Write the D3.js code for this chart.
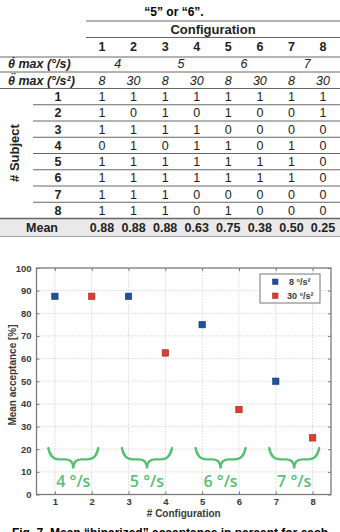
<!DOCTYPE html>
<html>
<head>
<meta charset="utf-8">
<script src="https://cdn.jsdelivr.net/npm/d3@7"></script>
<style>
  body { margin: 0; background: #fff; }
  svg { display: block; font-family: "Liberation Sans", Arial, sans-serif; }
</style>
</head>
<body>
<svg class="chart"></svg>
<script>
// table + scatter of mean acceptance per configuration

var configs = [1, 2, 3, 4, 5, 6, 7, 8];
var velMax = [4, 5, 6, 7];
var accMax = [8, 30, 8, 30, 8, 30, 8, 30];
var subjects = [1, 2, 3, 4, 5, 6, 7, 8];
var acceptance = [
  [1, 1, 1, 1, 1, 1, 1, 1],
  [1, 0, 1, 0, 1, 0, 0, 1],
  [1, 1, 1, 1, 0, 0, 0, 0],
  [0, 1, 0, 1, 1, 0, 1, 0],
  [1, 1, 1, 1, 1, 1, 1, 0],
  [1, 1, 1, 1, 1, 1, 1, 0],
  [1, 1, 1, 0, 0, 0, 0, 0],
  [1, 1, 1, 0, 1, 0, 0, 0]
];
var meanLabels = ["0.88", "0.88", "0.88", "0.63", "0.75", "0.38", "0.50", "0.25"];
var meanPct = [87.5, 87.5, 87.5, 62.5, 75, 37.5, 50, 25];
var yTicks = [0, 10, 20, 30, 40, 50, 60, 70, 80, 90, 100];
var seriesNames = ["8 °/s²", "30 °/s²"];

var ui = {
  blue: '#1f4f9f',
  blueEdge: '#17396f',
  red: '#e43a2c',
  redEdge: '#8f2a20',
  green: '#55bf74',
  rule: '#666'
}

var chart = d3.select(".chart")
  .attr("width", 340)
  .attr("height", 532);

chart.append("rect").attr("width", 340).attr("height", 532).attr("fill", "#fff");

// ---- caption above table
chart.append("text")
  .attr("x", 174).attr("y", 16)
  .attr("text-anchor", "middle")
  .style("font-size", "12px").style("font-weight", "bold")
  .text("“5” or “6”.");

// ---- table
var col = d3.scalePoint().domain(configs).range([102, 323]);
var row = d3.scaleBand().domain(subjects).range([88.5, 218.5]);
var table = chart.append("g").style("font-size", "12.5px").attr("fill", "#222");

function rule(x0, x1, y, w) {
  table.append("line").attr("x1", x0).attr("x2", x1).attr("y1", y).attr("y2", y)
    .attr("stroke", ui.rule).attr("stroke-width", w || 1);
}

// mean row background
table.append("rect").attr("x", 0).attr("y", 218.5).attr("width", 340).attr("height", 18)
  .attr("fill", "#e9e9e9");

rule(86, 340, 21);
rule(86, 340, 37.5);
rule(0, 340, 57);
rule(0, 340, 72);
rule(0, 340, 88.5);
subjects.slice(1).forEach(function(s) { rule(33, 340, row(s)); });
rule(0, 340, 218.5, 1.5);
rule(0, 340, 236.5, 0.6);

table.append("text").attr("x", 213).attr("y", 34)
  .attr("text-anchor", "middle").style("font-weight", "bold").style("font-size", "13px")
  .text("Configuration");

table.selectAll(".colhead").data(configs).enter().append("text")
  .attr("x", function(d) { return col(d) }).attr("y", 51)
  .attr("text-anchor", "middle").style("font-weight", "bold")
  .text(function(d) { return d });

// row labels: theta with dot / double dot drawn above it
[["max (°/s)", "˙", 68], ["max (°/s²)", "¨", 84.5]].forEach(function(r) {
  table.append("text").attr("x", 8).attr("y", r[2])
    .style("font-weight", "bold").style("font-style", "italic")
    .text("θ " + r[0]);
  table.append("text").attr("x", 13.5).attr("y", r[2] - 2.5)
    .attr("text-anchor", "middle")
    .style("font-weight", "bold").style("font-size", "12px")
    .text(r[1]);
});

table.selectAll(".vel").data(velMax).enter().append("text")
  .attr("x", function(d, i) { return (col(configs[2 * i]) + col(configs[2 * i + 1])) / 2 })
  .attr("y", 68).attr("text-anchor", "middle").style("font-style", "italic")
  .text(function(d) { return d });

table.selectAll(".acc").data(accMax).enter().append("text")
  .attr("x", function(d, i) { return col(configs[i]) })
  .attr("y", 84.5).attr("text-anchor", "middle").style("font-style", "italic")
  .text(function(d) { return d });

table.append("text")
  .attr("transform", "translate(19,153) rotate(-90)")
  .attr("text-anchor", "middle").style("font-weight", "bold").style("font-size", "13px")
  .text("# Subject");

var rows = table.selectAll(".subj").data(subjects).enter().append("g")
  .attr("transform", function(d) { return "translate(0," + (row(d) + row.bandwidth() / 2 + 4.5) + ")" });
rows.append("text").attr("x", 58).attr("text-anchor", "middle").style("font-weight", "bold")
  .text(function(d) { return d });
rows.selectAll(".cell").data(function(d, i) { return acceptance[i] }).enter().append("text")
  .attr("x", function(d, j) { return col(configs[j]) }).attr("text-anchor", "middle")
  .text(function(d) { return d });

table.append("text").attr("x", 42).attr("y", 232)
  .attr("text-anchor", "middle").style("font-weight", "bold").text("Mean");
table.selectAll(".mean").data(meanLabels).enter().append("text")
  .attr("x", function(d, i) { return col(configs[i]) }).attr("y", 232)
  .attr("text-anchor", "middle").style("font-weight", "bold")
  .text(function(d) { return d });

// ---- scatter
var x = d3.scaleLinear().domain([0.5, 8.5]).range([36.5, 331]);
var y = d3.scaleLinear().domain([0, 100]).range([494.5, 268]);
var plot = chart.append("g");

plot.selectAll(".gx").data(configs).enter().append("line")
  .attr("x1", function(d) { return x(d) }).attr("x2", function(d) { return x(d) })
  .attr("y1", y(0)).attr("y2", y(100))
  .attr("stroke", "#b5b5b5").attr("stroke-width", 0.8).attr("stroke-dasharray", "1,2");
plot.selectAll(".gy").data(yTicks.slice(1, -1)).enter().append("line")
  .attr("x1", x(0.5)).attr("x2", x(8.5))
  .attr("y1", function(d) { return y(d) }).attr("y2", function(d) { return y(d) })
  .attr("stroke", "#b5b5b5").attr("stroke-width", 0.8).attr("stroke-dasharray", "1,2");

var yAxis = d3.axisLeft(y).tickValues(yTicks).tickSize(-3).tickPadding(5);
var xAxis = d3.axisBottom(x).tickValues(configs).tickSize(-3).tickPadding(4);
var yAxisR = d3.axisRight(y).tickValues(yTicks).tickSize(-3).tickFormat("");
var xAxisT = d3.axisTop(x).tickValues(configs).tickSize(-3).tickFormat("");

var ya = plot.append("g").attr("transform", "translate(" + x(0.5) + ",0)").call(yAxis);
var xa = plot.append("g").attr("transform", "translate(0," + y(0) + ")").call(xAxis);
var yr = plot.append("g").attr("transform", "translate(" + x(8.5) + ",0)").call(yAxisR);
var xt = plot.append("g").attr("transform", "translate(0," + y(100) + ")").call(xAxisT);
[ya, xa, yr, xt].forEach(function(a) {
  a.select(".domain").remove();
  a.selectAll("line").attr("stroke", "#777");
  a.selectAll("text").attr("fill", "#3a3a3a").style("font-size", "9.5px").style("font-weight", "bold");
});

plot.append("rect")
  .attr("x", x(0.5)).attr("y", y(100))
  .attr("width", x(8.5) - x(0.5)).attr("height", y(0) - y(100))
  .attr("fill", "none").attr("stroke", "#7a7a7a").attr("stroke-width", 1.3);

plot.append("text")
  .attr("x", (x(0.5) + x(8.5)) / 2).attr("y", 517)
  .attr("text-anchor", "middle").attr("fill", "#3a3a3a")
  .style("font-size", "10px").style("font-weight", "bold")
  .text("# Configuration");

plot.append("text")
  .attr("transform", "translate(15.5,375) rotate(-90)")
  .attr("text-anchor", "middle").attr("fill", "#3a3a3a")
  .style("font-size", "10px").style("font-weight", "bold")
  .text("Mean acceptance [%]");

// braces + velocity labels
var braces = plot.selectAll(".brace").data(velMax).enter().append("g");
braces.append("path")
  .attr("d", function(d, i) {
    var xm = x(configs[2 * i] + 0.5), x0 = xm - 25, x1 = xm + 25;
    var y0 = y(20.5), ym = y(15.5), y1 = y(11.5);
    return "M" + x0 + "," + y0 +
      " Q" + (x0 + 2) + "," + ym + " " + (x0 + 11) + "," + ym +
      " L" + (xm - 8) + "," + ym +
      " Q" + xm + "," + ym + " " + xm + "," + y1 +
      " Q" + xm + "," + ym + " " + (xm + 8) + "," + ym +
      " L" + (x1 - 11) + "," + ym +
      " Q" + (x1 - 2) + "," + ym + " " + x1 + "," + y0;
  })
  .attr("fill", "none").attr("stroke", ui.green).attr("stroke-width", 2.4)
  .attr("stroke-linecap", "round");
braces.append("text")
  .attr("x", function(d, i) { return x(configs[2 * i] + 0.5) })
  .attr("y", y(3.5))
  .attr("text-anchor", "middle").attr("fill", ui.green)
  .style("font-family", "'Open Sans', sans-serif").style("font-size", "16px").style("font-weight", "600")
  .text(function(d) { return d + " °/s" });

// points
plot.selectAll(".pt").data(configs).enter().append("rect")
  .attr("x", function(d) { return x(d) - 3.2 })
  .attr("y", function(d, i) { return y(meanPct[i]) - 3.2 })
  .attr("width", 6.4).attr("height", 6.4)
  .attr("fill", function(d, i) { return i % 2 ? ui.red : ui.blue })
  .attr("stroke", function(d, i) { return i % 2 ? ui.redEdge : ui.blueEdge })
  .attr("stroke-width", 0.6);

// legend
var lg = plot.append("g").attr("transform", "translate(260,274)");
lg.append("rect").attr("width", 60).attr("height", 29)
  .attr("fill", "#fff").attr("stroke", "#777").attr("stroke-width", 1);
seriesNames.forEach(function(n, i) {
  lg.append("rect").attr("x", 12.5).attr("y", 5 + i * 14).attr("width", 5.5).attr("height", 5.5)
    .attr("fill", i ? ui.red : ui.blue).attr("stroke", i ? ui.redEdge : ui.blueEdge).attr("stroke-width", 0.5);
  lg.append("text").attr("x", i ? 27 : 29).attr("y", 11 + i * 14)
    .attr("fill", "#3a3a3a").style("font-size", "9px").style("font-weight", "bold")
    .text(n);
});

// caption below (cut off by the page edge)
chart.append("text")
  .attr("x", 170).attr("y", 537)
  .attr("text-anchor", "middle")
  .style("font-size", "12px").style("font-weight", "bold")
  .text("Fig. 7. Mean “binarized” acceptance in percent for each");
</script>
</body>
</html>
